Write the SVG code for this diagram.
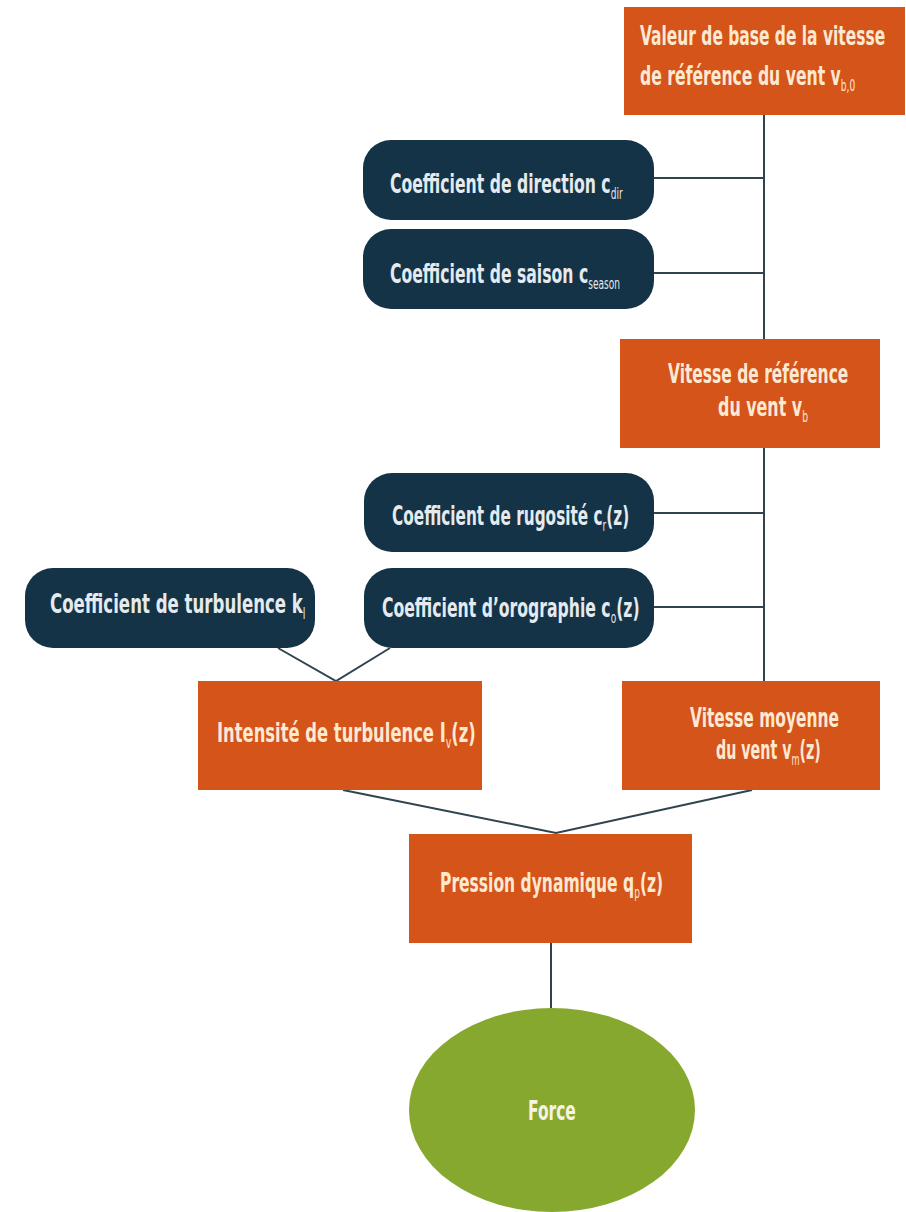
<svg xmlns="http://www.w3.org/2000/svg" width="906" height="1212" viewBox="0 0 906 1212">
<style>
.conn{stroke:#2e4451;stroke-width:2;fill:none}
.or{fill:#d4541a}
.dk{fill:#143346}
.t{font-family:"DejaVu Sans Condensed","Liberation Sans Narrow","Liberation Sans",sans-serif;font-size:26px;font-weight:bold}
.to{fill:#fde8d2}
.td{fill:#e4eaee}
.sub{font-size:15px;font-weight:normal}
</style>
<rect width="906" height="1212" fill="#ffffff"/>
<g id="connectors">
<line class="conn" x1="764" y1="115" x2="764" y2="681"/>
<line class="conn" x1="654" y1="178" x2="764" y2="178"/>
<line class="conn" x1="654" y1="273" x2="764" y2="273"/>
<line class="conn" x1="654" y1="513" x2="764" y2="513"/>
<line class="conn" x1="654" y1="607" x2="764" y2="607"/>
<polyline class="conn" points="278,648 336,681 390,648"/>
<polyline class="conn" points="343,790 556,833 752,790"/>
<line class="conn" x1="551" y1="943" x2="551" y2="1008"/>
</g>
<g id="n-base">
<rect class="or" x="624" y="7" width="281" height="108"/>
<text class="t to" transform="translate(640 45) scale(0.662 1)">Valeur de base de la vitesse</text>
<text class="t to" transform="translate(640 85) scale(0.67 1)">de référence du vent v<tspan class="sub" dy="6">b,0</tspan></text>
</g>
<g id="n-dir">
<rect class="dk" x="363" y="140" width="291" height="80" rx="28"/>
<text class="t td" transform="translate(390 193) scale(0.67 1)">Coefficient de direction c<tspan class="sub" dy="6">dir</tspan></text>
</g>
<g id="n-season">
<rect class="dk" x="363" y="229" width="291" height="80" rx="28"/>
<text class="t td" transform="translate(390 283) scale(0.67 1)">Coefficient de saison c<tspan class="sub" dy="6">season</tspan></text>
</g>
<g id="n-vb">
<rect class="or" x="620" y="339" width="260" height="109"/>
<text class="t to" transform="translate(668 383) scale(0.662 1)">Vitesse de référence</text>
<text class="t to" transform="translate(718 416) scale(0.68 1)">du vent v<tspan class="sub" dy="6">b</tspan></text>
</g>
<g id="n-rug">
<rect class="dk" x="364" y="473" width="290" height="79" rx="28"/>
<text class="t td" transform="translate(392 525) scale(0.655 1)">Coefficient de rugosité c<tspan class="sub" dy="6">r</tspan><tspan dy="-6">(z)</tspan></text>
</g>
<g id="n-oro">
<rect class="dk" x="364" y="568" width="290" height="80" rx="28"/>
<text class="t td" transform="translate(382 617) scale(0.67 1)">Coefficient d’orographie c<tspan class="sub" dy="6">o</tspan><tspan dy="-6">(z)</tspan></text>
</g>
<g id="n-turb">
<rect class="dk" x="25" y="568" width="290" height="80" rx="28"/>
<text class="t td" transform="translate(50 613) scale(0.71 1)">Coefficient de turbulence k<tspan class="sub" dy="6">l</tspan></text>
</g>
<g id="n-iv">
<rect class="or" x="198" y="681" width="284" height="109"/>
<text class="t to" transform="translate(217 742) scale(0.7 1)">Intensité de turbulence I<tspan class="sub" dy="6">v</tspan><tspan dy="-6">(z)</tspan></text>
</g>
<g id="n-vm">
<rect class="or" x="622" y="681" width="258" height="109"/>
<text class="t to" transform="translate(690 727) scale(0.662 1)">Vitesse moyenne</text>
<text class="t to" transform="translate(716 759) scale(0.61 1)">du vent v<tspan class="sub" dy="6">m</tspan><tspan dy="-6">(z)</tspan></text>
</g>
<g id="n-qp">
<rect class="or" x="409" y="834" width="283" height="109"/>
<text class="t to" transform="translate(440 892) scale(0.665 1)">Pression dynamique q<tspan class="sub" dy="6">p</tspan><tspan dy="-6">(z)</tspan></text>
</g>
<g id="n-force">
<ellipse cx="552" cy="1110" rx="143" ry="102" fill="#87a82f"/>
<text class="t" fill="#f7f3e4" transform="translate(528 1120) scale(0.662 1)">Force</text>
</g>
</svg>
